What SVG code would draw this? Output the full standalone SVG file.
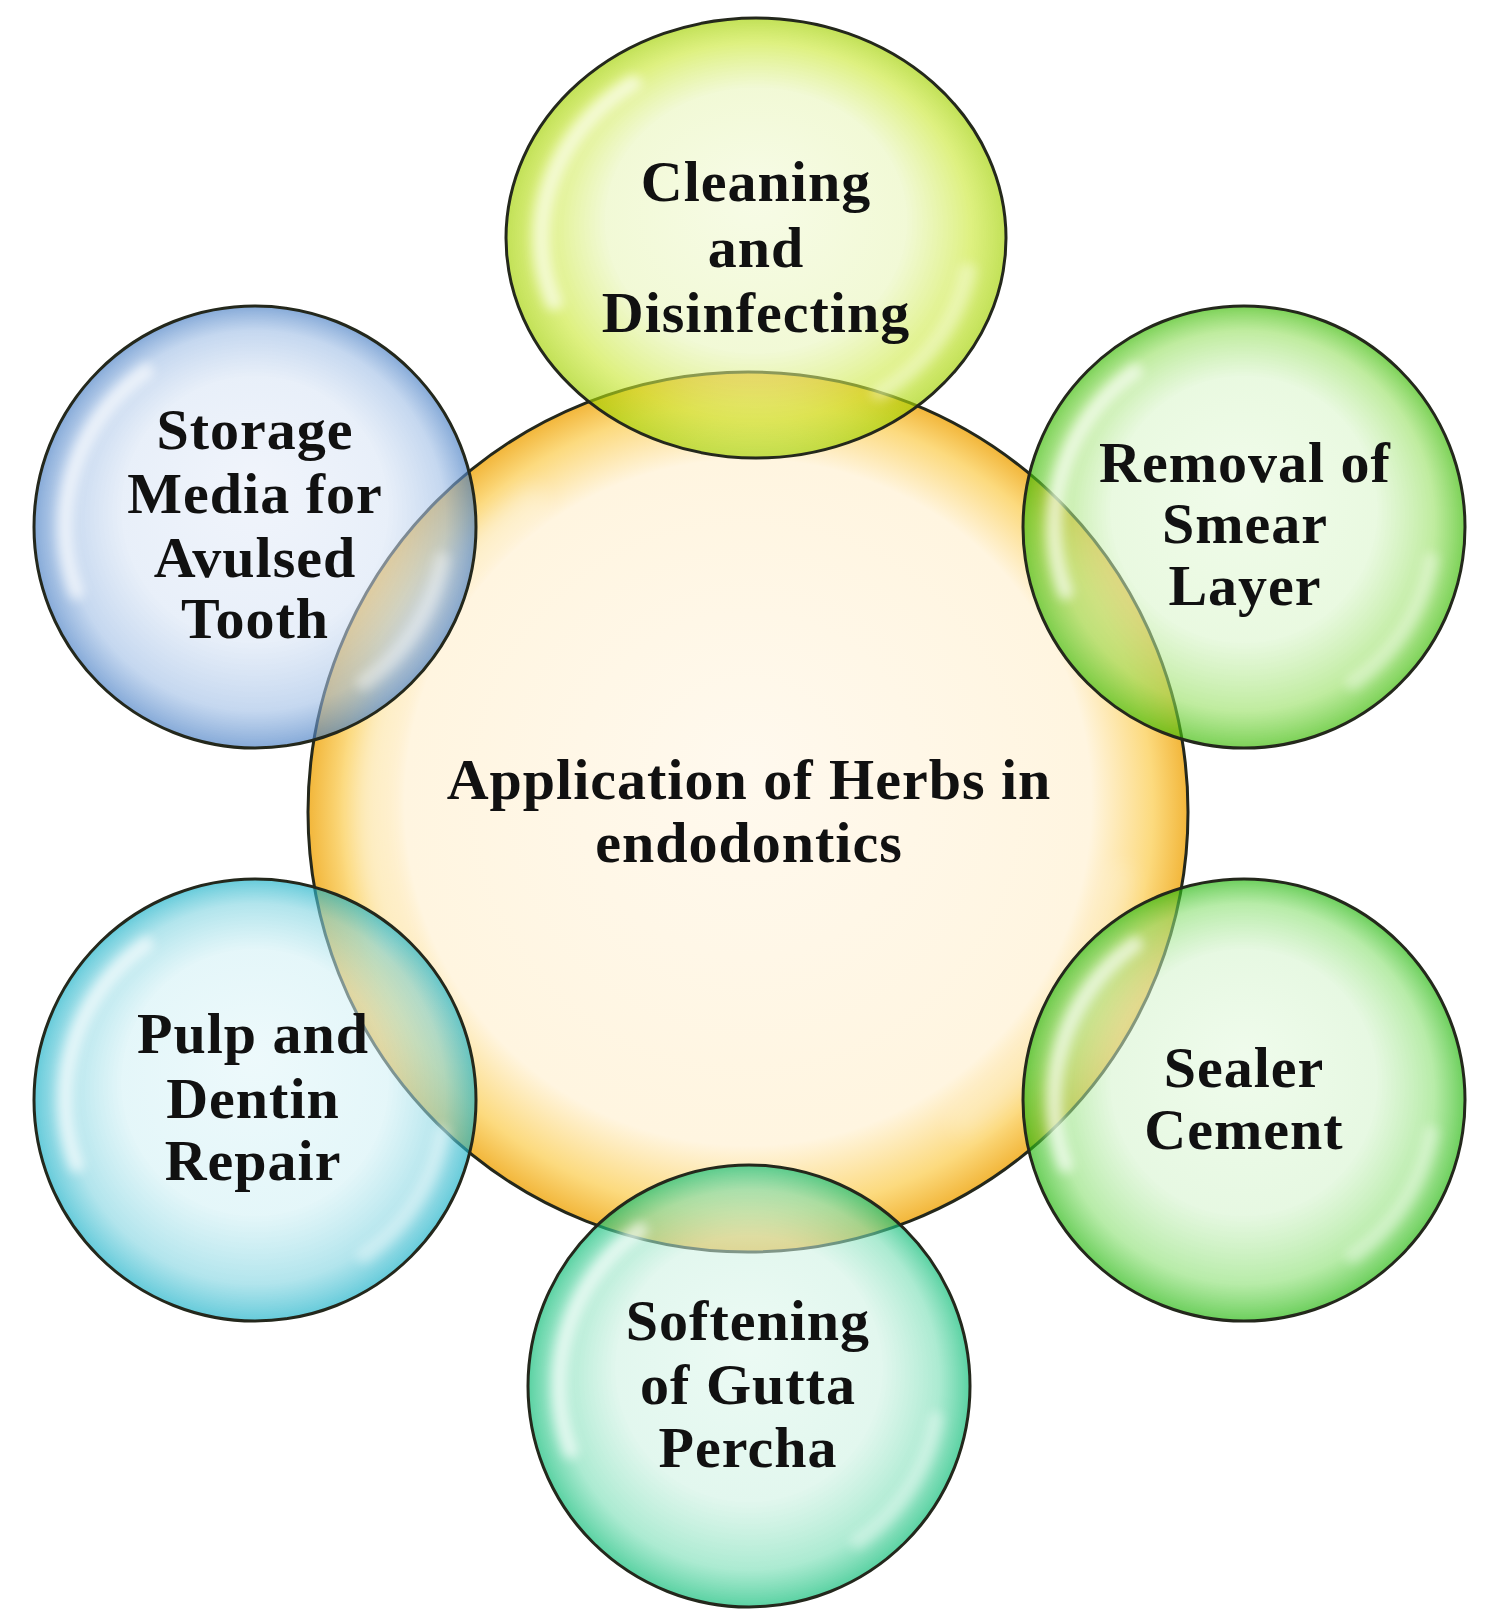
<svg xmlns="http://www.w3.org/2000/svg" xmlns:xlink="http://www.w3.org/1999/xlink" width="1487" height="1623" viewBox="0 0 1487 1623">
<style>
.lbl{font-family:"Liberation Serif","Times New Roman",serif;font-weight:bold;font-size:58px;letter-spacing:1px;fill:#111;text-anchor:middle}
.rim{stroke:#24281c;stroke-width:3}
.hl{fill:none;stroke:#ffffff;stroke-linecap:round;stroke-width:7}
</style>
<defs>
<filter id="blur" x="-50%" y="-50%" width="200%" height="200%"><feGaussianBlur stdDeviation="2.4"/></filter>
<radialGradient id="gOrange" cx="0.5" cy="0.5" r="0.5" fx="0.5" fy="0.45">
<stop offset="0" stop-color="#FFF9EE"/>
<stop offset="0.78" stop-color="#FFF5E0"/>
<stop offset="0.92" stop-color="#FCDA7E"/>
<stop offset="1" stop-color="#F2B63A"/>
</radialGradient>
<radialGradient id="gLime" cx="0.5" cy="0.5" r="0.5" fx="0.5" fy="0.4">
<stop offset="0" stop-color="#F0F8D2" stop-opacity="0.55"/>
<stop offset="0.6" stop-color="#E6F4B4" stop-opacity="0.55"/>
<stop offset="0.86" stop-color="#C8E72C" stop-opacity="0.6"/>
<stop offset="1" stop-color="#A2D100" stop-opacity="0.66"/>
</radialGradient>
<radialGradient id="gBlue" cx="0.5" cy="0.5" r="0.5" fx="0.5" fy="0.4">
<stop offset="0" stop-color="#E4EBF8" stop-opacity="0.55"/>
<stop offset="0.6" stop-color="#D5E2F4" stop-opacity="0.55"/>
<stop offset="0.86" stop-color="#9EBDE5" stop-opacity="0.6"/>
<stop offset="1" stop-color="#477EC4" stop-opacity="0.66"/>
</radialGradient>
<radialGradient id="gGreen" cx="0.5" cy="0.5" r="0.5" fx="0.5" fy="0.4">
<stop offset="0" stop-color="#E4F8D9" stop-opacity="0.55"/>
<stop offset="0.6" stop-color="#D7F4C7" stop-opacity="0.55"/>
<stop offset="0.86" stop-color="#95DF5F" stop-opacity="0.6"/>
<stop offset="1" stop-color="#38BA00" stop-opacity="0.66"/>
</radialGradient>
<radialGradient id="gGreen2" cx="0.5" cy="0.5" r="0.5" fx="0.5" fy="0.4">
<stop offset="0" stop-color="#E2F8DC" stop-opacity="0.55"/>
<stop offset="0.6" stop-color="#D2F2CA" stop-opacity="0.55"/>
<stop offset="0.86" stop-color="#88DF6F" stop-opacity="0.6"/>
<stop offset="1" stop-color="#20B608" stop-opacity="0.66"/>
</radialGradient>
<radialGradient id="gTeal" cx="0.5" cy="0.5" r="0.5" fx="0.5" fy="0.4">
<stop offset="0" stop-color="#DCF6EB" stop-opacity="0.55"/>
<stop offset="0.6" stop-color="#CAF0E0" stop-opacity="0.55"/>
<stop offset="0.86" stop-color="#74DDB3" stop-opacity="0.6"/>
<stop offset="1" stop-color="#04BA72" stop-opacity="0.66"/>
</radialGradient>
<radialGradient id="gCyan" cx="0.5" cy="0.5" r="0.5" fx="0.5" fy="0.4">
<stop offset="0" stop-color="#DEF4F8" stop-opacity="0.55"/>
<stop offset="0.6" stop-color="#CEEFF4" stop-opacity="0.55"/>
<stop offset="0.86" stop-color="#7ED3E0" stop-opacity="0.6"/>
<stop offset="1" stop-color="#16B0C7" stop-opacity="0.66"/>
</radialGradient>
<g id="shine" filter="url(#blur)">
<path class="hl" d="M -80.8 29.4 A 86 86 0 0 1 -49.3 -70.4" opacity="0.65"/>
<path class="hl" d="M 84.7 14.9 A 86 86 0 0 1 49.3 70.4" opacity="0.4"/>
</g>
</defs>
<rect width="1487" height="1623" fill="#ffffff"/>
<g id="connectors"/>
<g id="node-center">
<circle class="rim" cx="748" cy="812" r="440" fill="url(#gOrange)"/>
<use xlink:href="#shine" transform="translate(748 812) scale(4.4)" opacity="0.5"/>
<text class="lbl" x="749" y="799">Application of Herbs in</text>
<text class="lbl" x="749" y="862">endodontics</text>
</g>
<g id="node-cleaning">
<ellipse class="rim" cx="756" cy="238" rx="250" ry="220" fill="url(#gLime)"/>
<use xlink:href="#shine" transform="translate(756 238) scale(2.5 2.2)"/>
<text class="lbl" x="756" y="201">Cleaning</text>
<text class="lbl" x="756" y="267">and</text>
<text class="lbl" x="756" y="332">Disinfecting</text>
</g>
<g id="node-storage">
<circle class="rim" cx="255" cy="527" r="221" fill="url(#gBlue)"/>
<use xlink:href="#shine" transform="translate(255 527) scale(2.21)"/>
<text class="lbl" x="255" y="449">Storage</text>
<text class="lbl" x="255" y="513">Media for</text>
<text class="lbl" x="255" y="577">Avulsed</text>
<text class="lbl" x="255" y="638">Tooth</text>
</g>
<g id="node-removal">
<circle class="rim" cx="1244" cy="527" r="221" fill="url(#gGreen)"/>
<use xlink:href="#shine" transform="translate(1244 527) scale(2.21)"/>
<text class="lbl" x="1245" y="482">Removal of</text>
<text class="lbl" x="1245" y="543">Smear</text>
<text class="lbl" x="1245" y="605">Layer</text>
</g>
<g id="node-pulp">
<circle class="rim" cx="255" cy="1100" r="221" fill="url(#gCyan)"/>
<use xlink:href="#shine" transform="translate(255 1100) scale(2.21)"/>
<text class="lbl" x="253" y="1053">Pulp and</text>
<text class="lbl" x="253" y="1118">Dentin</text>
<text class="lbl" x="253" y="1180">Repair</text>
</g>
<g id="node-sealer">
<circle class="rim" cx="1244" cy="1100" r="221" fill="url(#gGreen2)"/>
<use xlink:href="#shine" transform="translate(1244 1100) scale(2.21)"/>
<text class="lbl" x="1244" y="1087">Sealer</text>
<text class="lbl" x="1244" y="1149">Cement</text>
</g>
<g id="node-softening">
<circle class="rim" cx="749" cy="1386" r="221" fill="url(#gTeal)"/>
<use xlink:href="#shine" transform="translate(749 1386) scale(2.21)"/>
<text class="lbl" x="748" y="1340">Softening</text>
<text class="lbl" x="748" y="1404">of Gutta</text>
<text class="lbl" x="748" y="1467">Percha</text>
</g>
</svg>
